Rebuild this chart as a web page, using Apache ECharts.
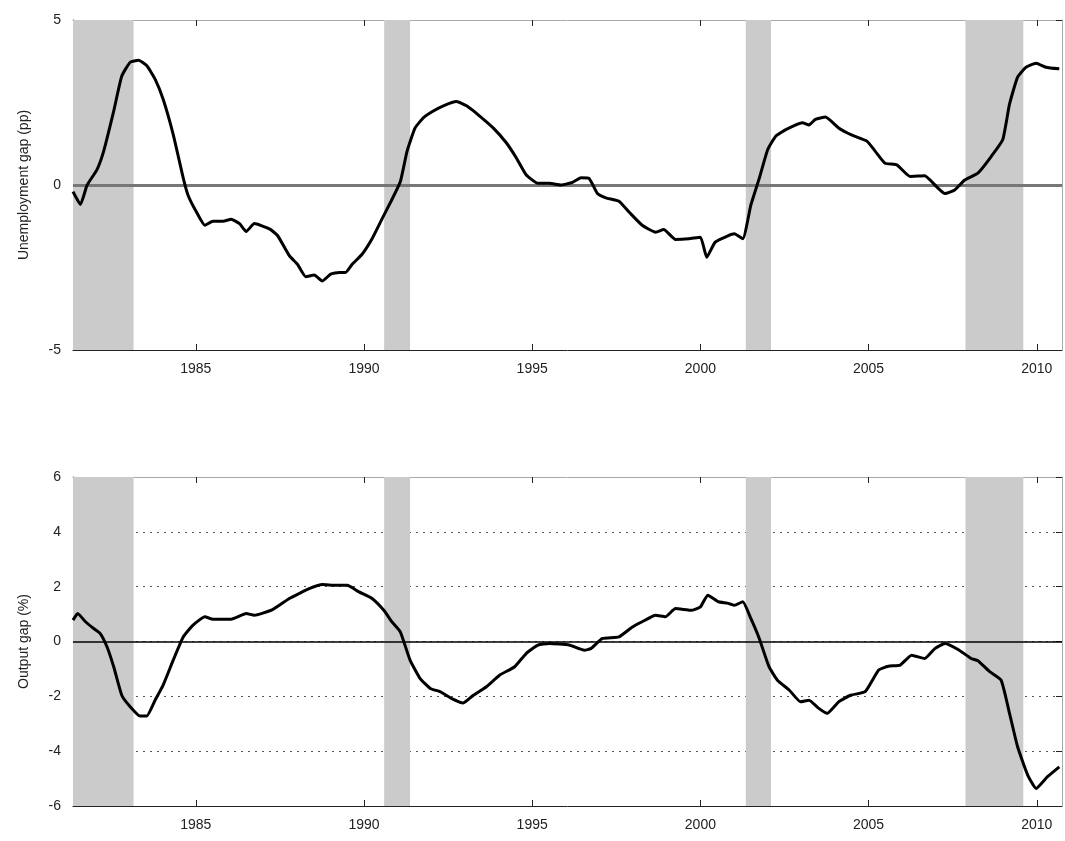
<!DOCTYPE html>
<html>
<head>
<meta charset="utf-8">
<title>Gaps</title>
<script src="https://cdn.jsdelivr.net/npm/echarts@6/dist/echarts.min.js"></script>
<style>html,body{margin:0;padding:0;background:#fff}#main{width:1065px;height:841px}</style>
</head>
<body>
<div id="main"></div>
<script>
// unemployment gap, [year, pp]
var unemp = [
  [1981.35,-0.2],[1981.57,-0.59],[1981.77,0],[1982.06,0.46],[1982.26,1.02],[1982.56,2.24],[1982.8,3.3],
  [1983.05,3.72],[1983.3,3.78],[1983.54,3.62],[1983.79,3.21],[1984.03,2.6],[1984.33,1.53],[1984.63,0.2],
  [1984.77,-0.31],[1985.02,-0.82],[1985.27,-1.22],[1985.51,-1.1],[1985.81,-1.1],[1986.05,-1.04],[1986.3,-1.17],
  [1986.5,-1.41],[1986.74,-1.17],[1987.19,-1.33],[1987.43,-1.53],[1987.78,-2.14],[1988.02,-2.4],[1988.27,-2.78],
  [1988.52,-2.73],[1988.76,-2.91],[1989.01,-2.7],[1989.26,-2.65],[1989.45,-2.65],[1989.65,-2.4],[1989.95,-2.09],
  [1990.24,-1.63],[1990.54,-1.02],[1990.8,-0.5],[1991.08,0.1],[1991.28,1.02],[1991.52,1.73],[1991.77,2.04],
  [1992.06,2.24],[1992.36,2.4],[1992.75,2.53],[1993.05,2.4],[1993.44,2.09],[1993.84,1.73],[1994.23,1.28],
  [1994.53,0.82],[1994.82,0.31],[1995.17,0.05],[1995.51,0.05],[1995.86,0],[1996.2,0.08],[1996.45,0.22],
  [1996.69,0.2],[1996.94,-0.26],[1997.19,-0.39],[1997.58,-0.49],[1997.88,-0.82],[1998.27,-1.22],[1998.67,-1.43],
  [1998.91,-1.35],[1999.26,-1.65],[1999.65,-1.63],[2000.0,-1.58],[2000.19,-2.19],[2000.44,-1.73],[2000.8,-1.55],
  [2001.01,-1.48],[2001.26,-1.63],[2001.5,-0.61],[2001.75,0.2],[2002.0,1.07],[2002.24,1.48],[2002.54,1.68],
  [2003.03,1.89],[2003.23,1.82],[2003.42,1.99],[2003.72,2.06],[2004.11,1.73],[2004.51,1.51],[2004.95,1.33],
  [2005.2,1.02],[2005.49,0.66],[2005.84,0.61],[2006.23,0.26],[2006.67,0.28],[2007.02,-0.05],[2007.27,-0.26],
  [2007.56,-0.15],[2007.86,0.15],[2008.25,0.36],[2008.65,0.87],[2008.99,1.38],[2009.19,2.45],[2009.43,3.27],
  [2009.68,3.57],[2009.98,3.69],[2010.27,3.57],[2010.67,3.52]
];
// output gap, [year, %]
var output = [
  [1981.35,0.78],[1981.49,1.02],[1981.72,0.72],[1981.97,0.47],[1982.16,0.29],[1982.36,-0.19],[1982.56,-0.92],
  [1982.8,-1.96],[1983.05,-2.38],[1983.34,-2.72],[1983.54,-2.72],[1983.79,-2.14],[1984.03,-1.59],[1984.33,-0.68],
  [1984.63,0.17],[1984.92,0.6],[1985.27,0.9],[1985.51,0.81],[1986.05,0.81],[1986.5,1.02],[1986.74,0.96],
  [1987.24,1.14],[1987.48,1.32],[1987.78,1.57],[1988.07,1.75],[1988.37,1.93],[1988.76,2.08],[1989.16,2.05],
  [1989.5,2.05],[1989.85,1.81],[1990.24,1.57],[1990.59,1.14],[1990.83,0.72],[1991.08,0.35],[1991.37,-0.68],
  [1991.67,-1.35],[1991.97,-1.71],[1992.26,-1.83],[1992.61,-2.08],[1992.95,-2.24],[1993.25,-1.96],[1993.64,-1.65],
  [1994.03,-1.23],[1994.48,-0.92],[1994.82,-0.44],[1995.17,-0.13],[1995.51,-0.07],[1996.1,-0.13],[1996.55,-0.32],
  [1996.74,-0.26],[1997.09,0.11],[1997.58,0.17],[1997.98,0.53],[1998.27,0.72],[1998.67,0.96],[1998.96,0.9],
  [1999.26,1.2],[1999.75,1.14],[2000.0,1.26],[2000.22,1.69],[2000.54,1.45],[2000.8,1.4],[2001.01,1.32],
  [2001.26,1.45],[2001.5,0.84],[2001.75,0.11],[2002.04,-0.92],[2002.29,-1.41],[2002.64,-1.77],[2002.98,-2.2],
  [2003.23,-2.14],[2003.52,-2.44],[2003.77,-2.62],[2004.11,-2.2],[2004.46,-1.96],[2004.9,-1.83],[2005.3,-1.04],
  [2005.59,-0.9],[2005.94,-0.86],[2006.28,-0.5],[2006.67,-0.62],[2006.97,-0.26],[2007.27,-0.07],[2007.66,-0.29],
  [2008.05,-0.62],[2008.25,-0.7],[2008.6,-1.1],[2008.94,-1.41],[2009.19,-2.62],[2009.43,-3.84],[2009.73,-4.87],
  [2009.98,-5.36],[2010.32,-4.93],[2010.67,-4.57]
];
var recessions = [[1981.35,1983.15],[1990.6,1991.37],[2001.35,2002.1],[2007.88,2009.6]];
var yearTicks = [1985,1990,1995,2000,2005,2010];
var unempTicks = [-5,0,5];
var outputTicks = [-6,-4,-2,0,2,4,6];

var xMin = 1981.35, xMax = 2010.75;
var font = 'Arial, "Liberation Sans", sans-serif';
var labelStyle = {color:'#222', fontSize:14, fontFamily:font};

function xAxes(idx){
  return [{
    type:'value', gridIndex:idx, min:xMin, max:xMax, position:'bottom',
    axisLine:{onZero:false, lineStyle:{color:'#222', width:1}},
    axisTick:{inside:true, length:6, customValues:yearTicks, lineStyle:{color:'#222'}},
    axisLabel:Object.assign({customValues:yearTicks, margin:12, formatter:function(v){return String(v);}}, labelStyle),
    splitLine:{show:false}
  },{
    type:'value', gridIndex:idx, min:xMin, max:xMax, position:'top',
    axisLine:{onZero:false, lineStyle:{color:'#aaa', width:1}},
    axisTick:{inside:true, length:6, customValues:yearTicks, lineStyle:{color:'#222'}},
    axisLabel:{show:false}, splitLine:{show:false}
  }];
}
function yAxes(idx, mn, mx, ticks, name){
  return [{
    type:'value', gridIndex:idx, min:mn, max:mx, position:'left',
    name:name, nameLocation:'middle', nameGap:42,
    nameTextStyle:{color:'#222', fontSize:14, fontFamily:font},
    axisLine:{show:true, lineStyle:{color:'#222'}},
    axisTick:{inside:true, length:6, customValues:ticks, lineStyle:{color:'#222'}},
    axisLabel:Object.assign({customValues:ticks, margin:12}, labelStyle),
    splitLine:{show:true, lineStyle:{type:[2,5], color:'#555', width:1}}
  },{
    type:'value', gridIndex:idx, min:mn, max:mx, position:'right',
    axisLine:{show:true, lineStyle:{color:'#aaa'}},
    axisTick:{inside:true, length:6, customValues:ticks, lineStyle:{color:'#222'}},
    axisLabel:{show:false}, splitLine:{show:false}
  }];
}
function shade(xi, yi){
  return {
    type:'line', xAxisIndex:xi, yAxisIndex:yi, data:[], silent:true, z:1,
    markArea:{silent:true, itemStyle:{color:'#cbcbcb', opacity:1},
      data:recessions.map(function(r){return [{xAxis:r[0]},{xAxis:r[1]}];})}
  };
}
function gapLine(xi, yi, data, zeroColor, zeroWidth){
  return {
    type:'line', xAxisIndex:xi, yAxisIndex:yi, data:data, showSymbol:false, smooth:0.15, z:5,
    lineStyle:{color:'#000', width:3},
    markLine:{silent:true, symbol:'none', label:{show:false}, z:3,
      lineStyle:{color:zeroColor, width:zeroWidth, type:'solid'}, data:[{yAxis:0}]}
  };
}

var chart = echarts.init(document.getElementById('main'));
chart.setOption({
  backgroundColor:'#fff',
  animation:false,
  grid:[
    {left:73, right:3, top:20, height:330},
    {left:73, right:3, top:477, height:329}
  ],
  xAxis: xAxes(0).concat(xAxes(1)),
  yAxis: yAxes(0,-5,5,unempTicks,'Unemployment gap (pp)').concat(yAxes(1,-6,6,outputTicks,'Output gap (%)')),
  series:[
    shade(0,0),
    gapLine(0,0,unemp,'#777',3),
    shade(2,2),
    gapLine(2,2,output,'#000',1.5)
  ]
});
</script>
</body>
</html>
